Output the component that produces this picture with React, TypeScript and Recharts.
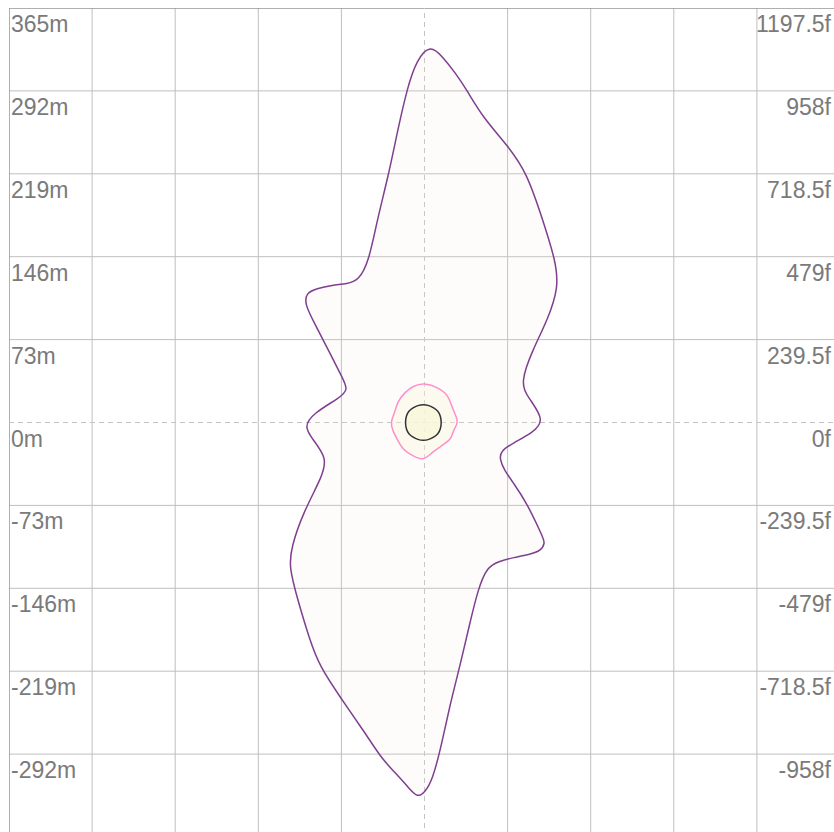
import {
  CartesianGrid,
  ReferenceArea,
  ReferenceLine,
  Scatter,
  ScatterChart,
  XAxis,
  YAxis,
} from 'recharts'

const THEME = {
  outer: '#7f3f8f',
  outerFill: '#f0e8d8',
  mid: '#ff8fcc',
  midFill: '#faf3d8',
  inner: '#333333',
  innerFill: '#f7f7da',
  grid: '#bfbfbf',
  center: '#c4c4c4',
  border: '#959595',
  label: '#7a7a7a',
}

// axis ticks (metres) with the matching feet labels shown on the right
const meterTicks = [365, 292, 219, 146, 73, 0, -73, -146, -219, -292]
const meterLabels = ['365m', '292m', '219m', '146m', '73m', '0m', '-73m', '-146m', '-219m', '-292m']
const feetLabels = ['1197.5f', '958f', '718.5f', '479f', '239.5f', '0f', '-239.5f', '-479f', '-718.5f', '-958f']
const gridTicks = [-292, -219, -146, -73, 73, 146, 219, 292]

// outer contour, clockwise from the top lobe (x, y in metres)
const outerX = [5, 16, 27, 37, 51, 73, 90, 104, 115, 118, 108, 95, 84, 91, 106, 95, 78, 67, 66, 70, 78, 90, 104, 106, 102, 93, 78, 66, 55, 47, 40, 31, 22, 15, 7, 0, -6, -13, -24, -37, -51, -74, -92, -101, -112, -119, -117, -107, -89, -86, -98, -106, -98, -74, -67, -72, -83, -98, -105, -104, -95, -81, -68, -58, -49, -41, -32, -23, -15, -7]
const outerY = [333, 322, 308, 293, 269, 244, 220, 178, 143, 119, 90, 64, 35, 22, 2, -9, -18, -25, -32, -42, -53, -71, -101, -106, -113, -116, -119, -122, -127, -147, -176, -215, -250, -284, -315, -326, -330, -323, -310, -297, -275, -242, -215, -191, -154, -127, -110, -80, -46, -31, -15, -4, 8, 22, 29, 39, 61, 90, 104, 114, 118, 121, 122, 125, 141, 181, 216, 260, 295, 319]

// middle contour
const midX = [-1, 12, 21, 24, 27, 30, 25, 24, 16, 7, -1, -11, -19, -24, -28, -30, -26, -24, -17, -10]
const midY = [35, 31, 24, 14, 7, 0, -7, -14, -20, -26, -34, -29, -24, -15, -7, 0, 9, 18, 27, 32]

// inner ring
const innerX = [-1, 4, 8, 12, 14, 15, 14, 12, 8, 4, -1, -6, -10, -14, -16, -17, -16, -14, -10, -6]
const innerY = [16, 15, 13, 10, 6, 0, -6, -10, -13, -15, -16, -15, -13, -10, -6, 0, 6, 10, 13, 15]

const toPoints = (xs: number[], ys: number[]) => xs.map((x, i) => ({ x, y: ys[i] }))

const outerData = toPoints(outerX, outerY)
const midData = toPoints(midX, midY)
const innerData = toPoints(innerX, innerY)

const FONT = '"Liberation Sans", Arial, sans-serif'

function DualTick(props: any) {
  const { y, payload } = props
  const i = meterTicks.indexOf(payload.value)
  return (
    <g>
      <text x={2} y={y + 24} textAnchor="start" fontFamily={FONT} fontSize={23} fill={THEME.label}>
        {meterLabels[i]}
      </text>
      <text x={822} y={y + 24} textAnchor="end" fontFamily={FONT} fontSize={23} fill={THEME.label}>
        {feetLabels[i]}
      </text>
    </g>
  )
}

const noDot = () => <g />

export default function App() {
  return (
    <div
      style={{
        position: 'fixed',
        left: 0,
        top: 0,
        width: 834,
        height: 832,
        overflow: 'hidden',
        background: '#fff',
      }}
    >
      <div style={{ position: 'absolute', left: 9, top: 8 }}>
        <ScatterChart width={831} height={829} margin={{ top: 0, right: 0, bottom: 0, left: 0 }}>
          <CartesianGrid
            yAxisId="left"
            stroke={THEME.grid}
            verticalValues={gridTicks}
            horizontalValues={gridTicks}
          />
          <XAxis type="number" dataKey="x" domain={[-365, 365]} ticks={gridTicks} hide />
          <YAxis
            yAxisId="left"
            type="number"
            dataKey="y"
            domain={[-365, 365]}
            ticks={meterTicks}
            mirror
            width={60}
            axisLine={false}
            tickLine={false}
            tick={<DualTick />}
            interval={0}
          />
          <Scatter
            yAxisId="left"
            data={outerData}
            line={{ stroke: THEME.outer, strokeWidth: 1.5, fill: THEME.outerFill, fillOpacity: 0.12 }}
            lineJointType="basisClosed"
            shape={noDot}
            isAnimationActive={false}
          />
          <Scatter
            yAxisId="left"
            data={midData}
            line={{ stroke: THEME.mid, strokeWidth: 1.5, fill: THEME.midFill, fillOpacity: 0.35 }}
            lineJointType="basisClosed"
            shape={noDot}
            isAnimationActive={false}
          />
          <Scatter
            yAxisId="left"
            data={innerData}
            line={{ stroke: THEME.inner, strokeWidth: 1.5, fill: THEME.innerFill, fillOpacity: 0.8 }}
            lineJointType="basisClosed"
            shape={noDot}
            isAnimationActive={false}
          />
          <ReferenceLine yAxisId="left" x={0} stroke={THEME.center} strokeDasharray="5 4" />
          <ReferenceLine yAxisId="left" y={0} stroke={THEME.center} strokeDasharray="5 4" />
          <ReferenceArea
            yAxisId="left"
            x1={-365}
            x2={365}
            y1={-365}
            y2={365}
            fill="none"
            stroke={THEME.border}
            strokeWidth={1.5}
          />
        </ScatterChart>
      </div>
    </div>
  )
}
